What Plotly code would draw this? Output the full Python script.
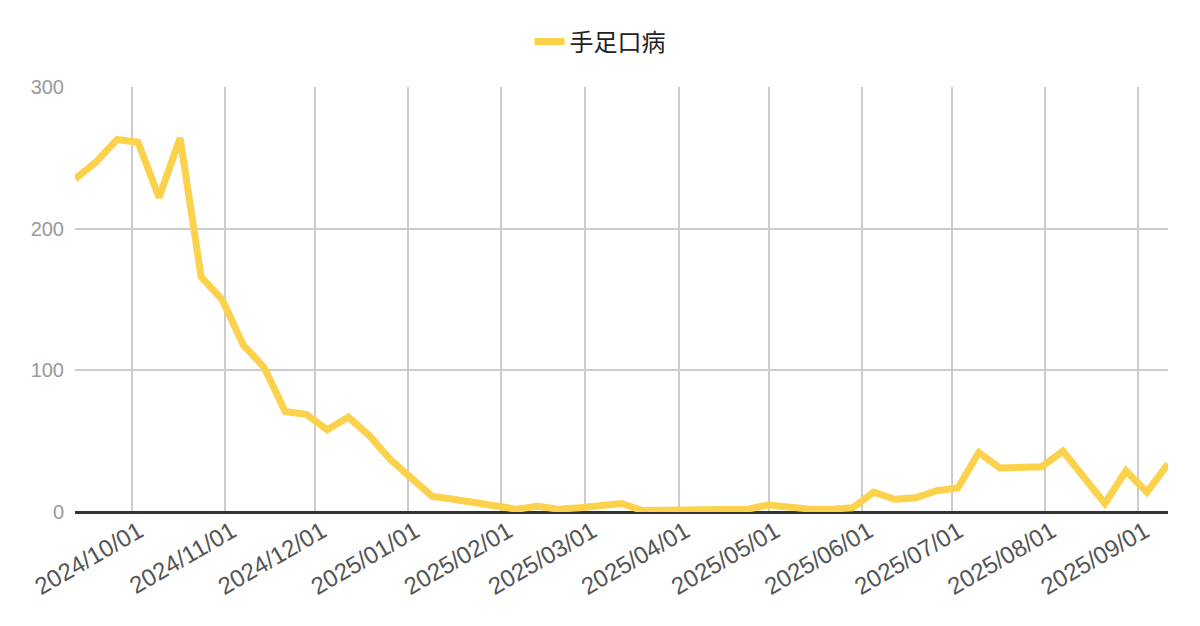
import datetime as dt
import plotly.graph_objects as go

series_name = "手足口病"
start_date = "2024-09-12"
values = [235, 247, 263, 261, 222, 264, 166, 150, 118, 102,
          71, 69, 58, 67, 54, 37, 24, 11, 9, 7,
          5, 2, 4, 2, 3, 5, 6, 1, 1, 1,
          2, 2, 2, 5, 3, 2, 2, 3, 14, 9,
          10, 15, 17, 42, 31, 32, 32, 43, 25, 6,
          29, 14, 34]
tick_dates = ["2024-10-01", "2024-11-01", "2024-12-01", "2025-01-01",
              "2025-02-01", "2025-03-01", "2025-04-01", "2025-05-01",
              "2025-06-01", "2025-07-01", "2025-08-01", "2025-09-01"]
tick_labels = ["2024/10/01", "2024/11/01", "2024/12/01", "2025/01/01",
               "2025/02/01", "2025/03/01", "2025/04/01", "2025/05/01",
               "2025/06/01", "2025/07/01", "2025/08/01", "2025/09/01"]
y_ticks = [0, 100, 200, 300]

d0 = dt.date.fromisoformat(start_date)
dates = [(d0 + dt.timedelta(days=7 * i)).isoformat() for i in range(len(values))]

fig = go.Figure()
fig.add_trace(go.Scatter(
    x=dates, y=values, mode="lines", name=series_name,
    line=dict(color="#FCD14B", width=7),
))

# page body has an 8px margin, so margins are shifted to compensate
fig.update_layout(
    width=1200, height=626,
    margin=dict(l=67, r=40, t=79, b=122),
    paper_bgcolor="white", plot_bgcolor="white",
    font=dict(family="Liberation Sans, Arial, Noto Sans CJK JP", color="#555555"),
    showlegend=True,
    legend=dict(orientation="h", xref="container", yref="container",
                x=592 / 1200, xanchor="center", y=1 - 34 / 626, yanchor="middle",
                font=dict(size=24, color="#222222",
                          family="Noto Sans CJK JP, Liberation Sans")),
    xaxis=dict(
        range=[dates[0], dates[-1]],
        tickvals=tick_dates, ticktext=tick_labels,
        tickangle=-30, tickfont=dict(size=24, color="#555555"),
        ticklabelshift=7,
        showgrid=True, gridcolor="#CCCCCC", gridwidth=1.5,
        showline=False, zeroline=False, ticks="",
    ),
    yaxis=dict(
        range=[0, 300], tickvals=y_ticks,
        tickfont=dict(size=20, color="#999999"),
        showgrid=True, gridcolor="#CCCCCC", gridwidth=1.5,
        zeroline=True, zerolinecolor="#333333", zerolinewidth=2.5,
        ticks="", ticklabelstandoff=10,
    ),
)

fig.write_html("out.html")
